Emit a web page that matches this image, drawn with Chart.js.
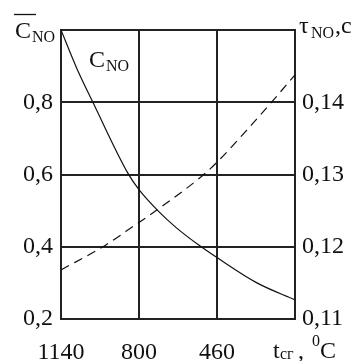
<!DOCTYPE html>
<html>
<head>
<meta charset="utf-8">
<script src="https://cdn.jsdelivr.net/npm/chart.js@4.4.1/dist/chart.umd.min.js"></script>
<style>
html,body{margin:0;padding:0;background:#fff;}
#wrap{width:357px;height:361px;position:relative;}
</style>
</head>
<body>
<div id="wrap"><canvas id="c" width="357" height="361"></canvas></div>
<script>
// x: t_сг, °C (axis runs from 1140 down to 120)
const xTickValues = [1140, 800, 460, 120];
const xTickLabels = ['1140', '800', '460', ''];
const leftTickLabels = { '0.2': '0,2', '0.4': '0,4', '0.6': '0,6', '0.8': '0,8', '1': '' };
const rightTickLabels = { '0.11': '0,11', '0.12': '0,12', '0.13': '0,13', '0.14': '0,14', '0.15': '' };

// Solid curve: C_NO (left axis)
const cX = [1140, 1072, 1001, 848, 800, 718, 638, 538, 460, 286, 120];
const cY = [1.0, 0.895, 0.800, 0.603, 0.558, 0.500, 0.453, 0.404, 0.370, 0.300, 0.253];
// Dashed curve: tau_NO, c (right axis)
const tX = [1140, 957, 817, 730, 525, 460, 303, 225, 120];
const tY = [0.1168, 0.1200, 0.1230, 0.1249, 0.1298, 0.1317, 0.1371, 0.1399, 0.1438];

const SERIF = '"Liberation Serif","DejaVu Serif","Times New Roman",serif';
const INK = '#111';
const BIG = 24, SMALL = 16;

function pts(xs, ys){ return xs.map((x,i)=>({x:x, y:ys[i]})); }

const titles = {
  id: 'titles',
  afterDraw(chart){
    const ctx = chart.ctx;
    ctx.save();
    ctx.fillStyle = INK;
    ctx.strokeStyle = INK;
    ctx.textBaseline = 'alphabetic';
    ctx.textAlign = 'left';
    const big = () => { ctx.font = BIG + 'px ' + SERIF; };
    const small = () => { ctx.font = SMALL + 'px ' + SERIF; };
    // Left axis title: C with overline, subscript NO
    big(); ctx.fillText('C', 15, 38);
    ctx.lineWidth = 1.3;
    ctx.beginPath(); ctx.moveTo(14, 14.5); ctx.lineTo(36, 14.5); ctx.stroke();
    small(); ctx.fillText('NO', 32, 42);
    // In-plot label C_NO
    big(); ctx.fillText('C', 89, 67);
    small(); ctx.fillText('NO', 106, 71);
    // Right axis title tau_NO, c
    big(); ctx.fillText('\u03C4', 299, 33);
    small(); ctx.fillText('NO', 311, 38);
    big(); ctx.fillText(',c', 335, 33);
    // x axis title t_сг, °C
    const xs = chart.scales.x;
    const bx = xs.getPixelForValue(120) - 22;
    const by = 358;
    big(); ctx.fillText('t', bx, by);
    small(); ctx.fillText('\u0441\u0433', bx + 7, by + 1);
    big(); ctx.fillText(',', bx + 25, by);
    small(); ctx.fillText('0', bx + 39, by - 12);
    big(); ctx.fillText('C', bx + 47, by);
    ctx.restore();
  }
};

new Chart(document.getElementById('c'), {
  type: 'line',
  data: {
    datasets: [
      { label: 'C_NO', data: pts(cX, cY), yAxisID: 'y', borderColor: INK, borderWidth: 1.2,
        pointRadius: 0, fill: false, cubicInterpolationMode: 'monotone' },
      { label: 'tau_NO', data: pts(tX, tY), yAxisID: 'y2', borderColor: INK, borderWidth: 1.2,
        borderDash: [9, 6], pointRadius: 0, fill: false, cubicInterpolationMode: 'monotone' }
    ]
  },
  options: {
    responsive: false,
    animation: false,
    events: [],
    layout: { padding: { top: 30, left: 0, right: 0, bottom: 0 } },
    plugins: { legend: { display: false }, tooltip: { enabled: false } },
    scales: {
      x: {
        type: 'linear', reverse: true, min: 120, max: 1140,
        afterFit: s => { s.height = 42; },
        afterBuildTicks: s => { s.ticks = xTickValues.map(v => ({ value: v })); },
        grid: { color: '#222', lineWidth: 2, drawTicks: false },
        border: { color: '#222', width: 2 },
        ticks: {
          padding: 19, color: INK, font: { family: SERIF, size: BIG },
          callback: v => xTickLabels[xTickValues.indexOf(v)] ?? ''
        }
      },
      y: {
        position: 'left', min: 0.2, max: 1.0,
        afterFit: s => { s.width = 61; },
        grid: { color: '#222', lineWidth: 2, drawTicks: false },
        border: { color: '#222', width: 2 },
        ticks: {
          stepSize: 0.2, padding: 8, color: INK, font: { family: SERIF, size: BIG },
          callback: v => leftTickLabels[String(+v.toFixed(2))] ?? ''
        }
      },
      y2: {
        position: 'right', min: 0.11, max: 0.15,
        afterFit: s => { s.width = 62; },
        grid: { display: false, drawTicks: false },
        border: { color: '#222', width: 2 },
        ticks: {
          stepSize: 0.01, padding: 7, color: INK, font: { family: SERIF, size: BIG },
          callback: v => rightTickLabels[String(+v.toFixed(2))] ?? ''
        }
      }
    }
  },
  plugins: [titles]
});
</script>
</body>
</html>
